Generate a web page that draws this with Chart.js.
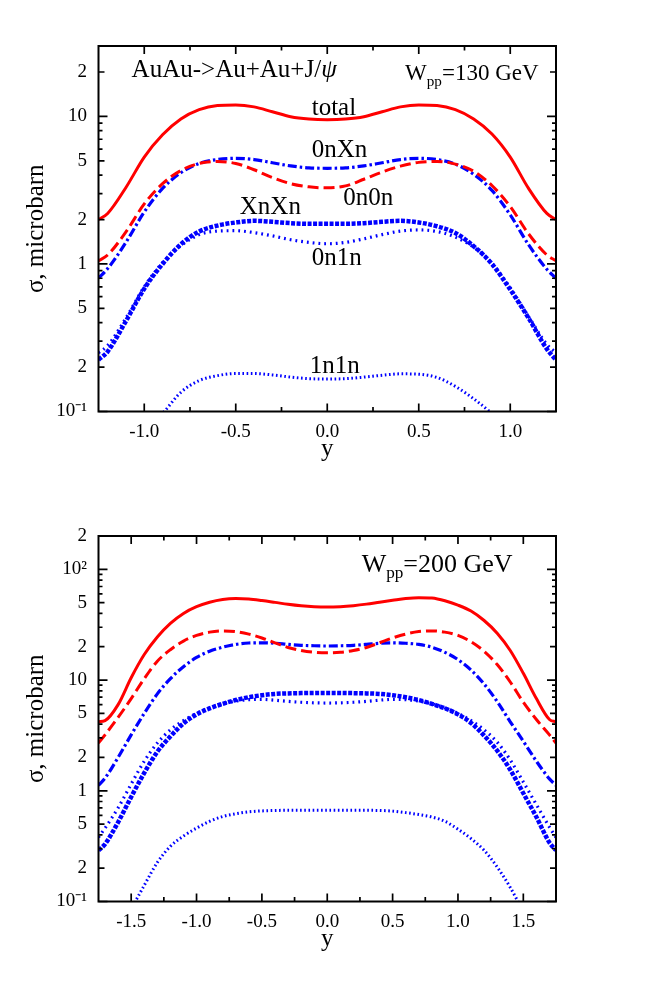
<!DOCTYPE html>
<html>
<head>
<meta charset="utf-8">
<script src="https://cdn.jsdelivr.net/npm/chart.js@4.4.1/dist/chart.umd.min.js"></script>
<style>
html,body{margin:0;padding:0;background:#fff;}
#wrap{position:relative;width:654px;height:981px;}
canvas{position:absolute;left:0;}
</style>
</head>
<body>
<div id="wrap">
<canvas id="c1" width="654" height="490" style="top:0"></canvas>
<canvas id="c2" width="654" height="490" style="top:490px"></canvas>
</div>
<script>
// ---------- DATA: top panel (W_pp = 130 GeV) ----------
const xTop = [-1.25,-1.2,-1.1,-1.0,-0.9,-0.8,-0.7,-0.6,-0.5,-0.4,-0.3,-0.2,-0.1,0,0.1,0.2,0.3,0.4,0.5,0.6,0.7,0.8,0.9,1.0,1.1,1.2,1.25];
const totalTop = [2.0,2.2,3.3,5.3,7.5,9.6,11.1,11.85,11.95,11.6,10.75,9.95,9.6,9.5,9.6,9.95,10.75,11.6,11.95,11.85,11.1,9.6,7.6,5.3,3.25,2.2,2.0];
const n0n0Top = [1.05,1.15,1.65,2.55,3.5,4.3,4.8,4.95,4.8,4.35,3.85,3.5,3.33,3.28,3.38,3.75,4.2,4.6,4.88,4.95,4.75,4.25,3.4,2.45,1.6,1.15,1.05];
const n0nXTop = [0.8,0.93,1.4,2.25,3.25,4.15,4.8,5.1,5.2,5.1,4.85,4.62,4.48,4.45,4.48,4.62,4.85,5.1,5.2,5.1,4.75,4.05,3.15,2.15,1.35,0.92,0.8];
const nXnXTop = [0.224,0.255,0.41,0.68,1.0,1.36,1.66,1.82,1.91,1.96,1.93,1.89,1.87,1.87,1.87,1.89,1.93,1.96,1.91,1.8,1.62,1.32,1.0,0.67,0.43,0.265,0.224];
const n0n1Top = [0.25,0.28,0.43,0.70,1.02,1.33,1.58,1.67,1.68,1.63,1.55,1.46,1.4,1.37,1.4,1.48,1.58,1.67,1.7,1.66,1.52,1.3,1.01,0.69,0.44,0.285,0.25];
const n1n1Top = [0.03,0.038,0.055,0.075,0.097,0.135,0.162,0.175,0.181,0.181,0.177,0.171,0.167,0.166,0.167,0.171,0.176,0.18,0.179,0.17,0.148,0.122,0.097,0.075,0.055,0.038,0.03];

// ---------- DATA: bottom panel (W_pp = 200 GeV) ----------
const xBot = [-1.75,-1.7,-1.6,-1.5,-1.4,-1.3,-1.2,-1.1,-1.0,-0.9,-0.8,-0.7,-0.6,-0.5,-0.4,-0.3,-0.2,-0.1,0,0.1,0.2,0.3,0.4,0.5,0.6,0.7,0.8,0.9,1.0,1.1,1.2,1.3,1.4,1.5,1.6,1.7,1.75];
const totalBot = [4.2,4.3,6.0,10.5,17.0,24.5,32.5,40,46,50.5,53.5,54.5,54,52.3,50.3,48.3,46.8,45.9,45.6,46,47,48.5,50.5,52.5,54.5,55.5,55,52,47.5,42,34.5,26.5,18.5,11.5,6.8,4.4,4.2];
const n0n0Bot = [2.7,3.2,4.6,6.8,10.3,14.8,18.8,22.5,25.3,27.1,27.8,27.4,26,24,21.7,19.7,18.5,17.8,17.6,17.8,18.5,19.7,21.7,24,26,27.4,27.8,27.1,25.3,22.2,18.2,13.8,9.6,6.3,4.4,3.2,2.7];
const n0nXBot = [1.12,1.3,2.0,3.2,5.0,7.5,10.3,13.2,16,18.2,19.8,21.0,21.6,21.7,21.5,21.0,20.6,20.4,20.3,20.4,20.6,21.0,21.5,21.7,21.5,21,19.8,17.8,15.3,12.3,9.2,6.4,4.2,2.8,1.85,1.28,1.12];
const nXnXBot = [0.29,0.33,0.52,0.88,1.45,2.25,3.1,4.05,4.9,5.55,6.1,6.6,7.0,7.3,7.5,7.58,7.62,7.64,7.65,7.64,7.62,7.58,7.5,7.3,7.0,6.6,6.1,5.55,4.9,4.1,3.15,2.3,1.55,0.95,0.58,0.34,0.29];
const n0n1Bot = [0.38,0.46,0.7,1.15,1.85,2.7,3.55,4.3,5.0,5.6,6.1,6.45,6.65,6.7,6.58,6.42,6.3,6.23,6.2,6.23,6.3,6.42,6.58,6.7,6.65,6.45,6.1,5.6,5.0,4.3,3.55,2.75,1.9,1.2,0.75,0.47,0.38];
const n1n1Bot = [0.02,0.028,0.05,0.085,0.14,0.225,0.315,0.39,0.46,0.53,0.585,0.62,0.645,0.658,0.664,0.666,0.666,0.666,0.666,0.666,0.666,0.666,0.664,0.655,0.635,0.61,0.58,0.53,0.45,0.37,0.29,0.205,0.134,0.08,0.045,0.025,0.02];

// ---------- TICKS ----------
const yTicksTop = [0.1,0.2,0.5,1,2,5,10,20];
const yTickLabelsTop = ['10\u207B\u00B9','2','5','1','2','5','10','2'];
const yMinorTop = [0.3,0.4,0.6,0.7,0.8,0.9,3,4,6,7,8,9];
const yTicksBot = [0.1,0.2,0.5,1,2,5,10,20,50,100,200];
const yTickLabelsBot = ['10\u207B\u00B9','2','5','1','2','5','10','2','5','10\u00B2','2'];
const yMinorBot = [0.3,0.4,0.6,0.7,0.8,0.9,3,4,6,7,8,9,30,40,60,70,80,90];
const xTicksTop = [-1,-0.5,0,0.5,1];
const xTickLabelsTop = ['-1.0','-0.5','0.0','0.5','1.0'];
const xMinorTop = [-0.75,-0.25,0.25,0.75];
const xTicksBot = [-1.5,-1,-0.5,0,0.5,1,1.5];
const xTickLabelsBot = ['-1.5','-1.0','-0.5','0.0','0.5','1.0','1.5'];
const xMinorBot = [-1.25,-0.75,-0.25,0.25,0.75,1.25];

const SERIF = "'Liberation Serif','Times New Roman',serif";
const RED = '#ff0000', BLUE = '#0000ff';

function pts(xs, ys){ return xs.map((x,i)=>({x:x, y:ys[i]})); }

function isDecade(v){ const l = Math.log10(v); return Math.abs(l - Math.round(l)) < 1e-9; }

const frameTicks = {
  id: 'frameTicks',
  afterDatasetsDraw(chart, args, o) {
    const {ctx, chartArea: a} = chart;
    const xs = chart.scales.x, ys = chart.scales.y;
    ctx.save();
    ctx.strokeStyle = '#000';
    ctx.lineWidth = 1.7;
    ctx.beginPath();
    const yt = [];
    o.yMajor.forEach(v => yt.push([v, isDecade(v) ? 9 : 6]));
    o.yMinor.forEach(v => yt.push([v, 4]));
    yt.forEach(([v, len]) => {
      const p = ys.getPixelForValue(v);
      ctx.moveTo(a.left, p); ctx.lineTo(a.left + len, p);
      ctx.moveTo(a.right, p); ctx.lineTo(a.right - len, p);
    });
    const xt = [];
    o.xMajor.forEach(v => xt.push([v, 8]));
    o.xMinor.forEach(v => xt.push([v, 4.5]));
    xt.forEach(([v, len]) => {
      const p = xs.getPixelForValue(v);
      ctx.moveTo(p, a.bottom); ctx.lineTo(p, a.bottom - len);
      ctx.moveTo(p, a.top); ctx.lineTo(p, a.top + len);
    });
    ctx.stroke();
    ctx.lineWidth = 2;
    ctx.strokeRect(a.left, a.top, a.right - a.left, a.bottom - a.top);
    // annotations (anchored in data coordinates)
    ctx.fillStyle = '#000';
    ctx.textBaseline = 'alphabetic';
    ctx.textAlign = 'left';
    o.notes.forEach(n => {
      let px = xs.getPixelForValue(n.x);
      const py = ys.getPixelForValue(n.y);
      n.parts.forEach(part => {
        const sz = part.sub ? n.size * 0.66 : n.size;
        ctx.font = (part.italic ? 'italic ' : '') + sz + 'px ' + SERIF;
        ctx.fillText(part.t, px, py + (part.sub ? n.size * 0.24 : 0));
        px += ctx.measureText(part.t).width;
      });
    });
    ctx.restore();
  }
};

function makeChart(id, xs, series, xMin, xMax, yMin, yMax, yTicks, yLabels, yMinor, xTicks, xLabels, xMinor, notes) {
  const styles = [
    {label:'total', color:RED, w:3, dash:[]},
    {label:'0n0n', color:RED, w:3, dash:[11,5]},
    {label:'0nXn', color:BLUE, w:3.2, dash:[9,3,2.5,3]},
    {label:'XnXn', color:BLUE, w:4.5, dash:[4,1.5]},
    {label:'0n1n', color:BLUE, w:3.2, dash:[1.8,4]},
    {label:'1n1n', color:BLUE, w:3, dash:[1.6,2.6]}
  ];
  const datasets = series.map((ys, i) => ({
    label: styles[i].label,
    data: pts(xs, ys),
    borderColor: styles[i].color,
    borderWidth: styles[i].w,
    borderDash: styles[i].dash,
    borderCapStyle: 'butt',
    pointRadius: 0,
    fill: false,
    cubicInterpolationMode: 'monotone'
  }));
  return new Chart(document.getElementById(id), {
    type: 'line',
    data: { datasets },
    options: {
      responsive: false,
      devicePixelRatio: 1,
      animation: false,
      layout: { padding: { left: 0, right: 98, top: 46, bottom: 0 } },
      plugins: {
        legend: { display: false },
        tooltip: { enabled: false },
        frameTicks: { yMajor: yTicks, yMinor: yMinor, xMajor: xTicks, xMinor: xMinor, notes: notes }
      },
      scales: {
        x: {
          type: 'linear', min: xMin, max: xMax,
          grid: { display: false, drawTicks: false },
          border: { display: false },
          afterBuildTicks: s => { s.ticks = xTicks.map(v => ({ value: v })); },
          afterFit: s => { s.height = 78.5; },
          ticks: {
            autoSkip: false, maxRotation: 0, padding: 9,
            color: '#000', font: { family: SERIF, size: 19 },
            callback: (v, i) => xLabels[i]
          },
          title: { display: true, text: 'y', color: '#000', font: { family: SERIF, size: 25 }, padding: { top: 0, bottom: 26 } }
        },
        y: {
          type: 'logarithmic', min: yMin, max: yMax,
          grid: { display: false, drawTicks: false },
          border: { display: false },
          afterBuildTicks: s => { s.ticks = yTicks.map(v => ({ value: v })); },
          afterFit: s => { s.width = 98.5; },
          ticks: {
            autoSkip: false, padding: 11.5,
            color: '#000', font: { family: SERIF, size: 19 },
            callback: (v, i) => yLabels[i]
          },
          title: { display: true, text: '\u03C3, microbarn', color: '#000', font: { family: SERIF, size: 25 }, padding: { top: 21, bottom: 0 } }
        }
      }
    },
    plugins: [frameTicks]
  });
}

makeChart('c1', xTop, [totalTop, n0n0Top, n0nXTop, nXnXTop, n0n1Top, n1n1Top],
  -1.25, 1.25, 0.1, 30, yTicksTop, yTickLabelsTop, yMinorTop, xTicksTop, xTickLabelsTop, xMinorTop,
  [
    { x: -1.069, y: 18.5, size: 25, parts: [{ t: 'AuAu->Au+Au+J/' }, { t: '\u03C8', italic: true }] },
    { x: 0.425, y: 17.6, size: 23, parts: [{ t: 'W' }, { t: 'pp', sub: true }, { t: '=130 GeV' }] },
    { x: -0.085, y: 10.2, size: 25, parts: [{ t: 'total' }] },
    { x: -0.085, y: 5.33, size: 25, parts: [{ t: '0nXn' }] },
    { x: 0.088, y: 2.51, size: 25, parts: [{ t: '0n0n' }] },
    { x: -0.478, y: 2.18, size: 25, parts: [{ t: 'XnXn' }] },
    { x: -0.085, y: 0.98, size: 25, parts: [{ t: '0n1n' }] },
    { x: -0.095, y: 0.183, size: 25, parts: [{ t: '1n1n' }] }
  ]);

makeChart('c2', xBot, [totalBot, n0n0Bot, n0nXBot, nXnXBot, n0n1Bot, n1n1Bot],
  -1.75, 1.75, 0.1, 200, yTicksBot, yTickLabelsBot, yMinorBot, xTicksBot, xTickLabelsBot, xMinorBot,
  [
    { x: 0.263, y: 94.6, size: 26, parts: [{ t: 'W' }, { t: 'pp', sub: true }, { t: '=200 GeV' }] }
  ]);
</script>
</body>
</html>
